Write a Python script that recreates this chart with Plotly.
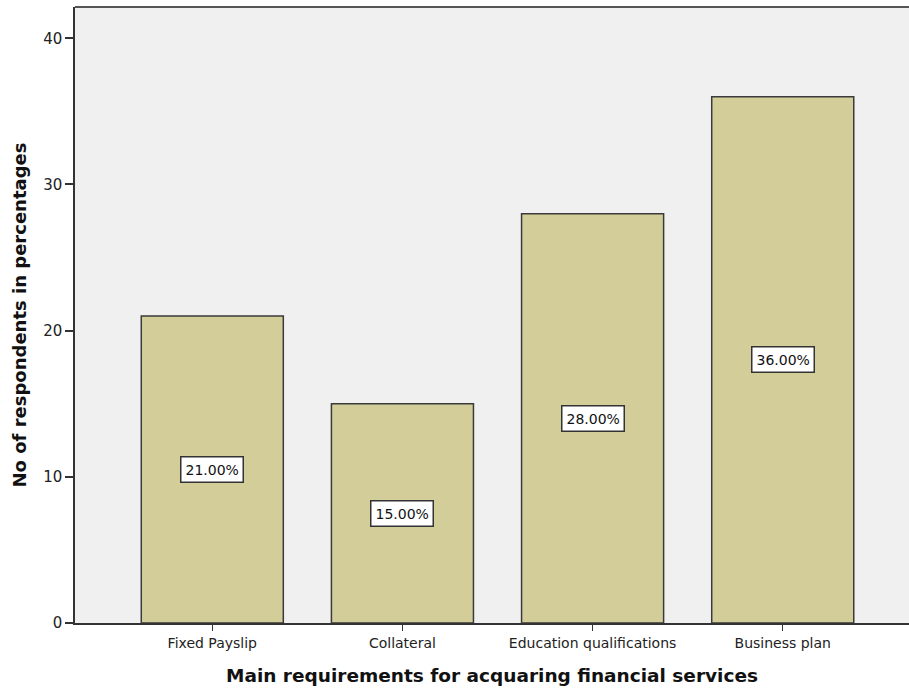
import plotly.graph_objects as go

# Survey results: main requirements for acquiring financial services
categories = ["Fixed Payslip", "Collateral", "Education qualifications", "Business plan"]
percentages = [21, 15, 28, 36]
y_ticks = [0, 10, 20, 30, 40]

bar_fill = "#d3ce99"
bar_edge = "#3a3a3a"
plot_bg = "#f0f0f0"
font_family = "DejaVu Sans"

fig = go.Figure()

fig.add_trace(go.Bar(
    x=categories,
    y=percentages,
    width=0.747,
    marker=dict(color=bar_fill, line=dict(color=bar_edge, width=1.5)),
    hoverinfo="skip",
))

# Value labels in white boxes at the middle of each bar
for cat, val in zip(categories, percentages):
    fig.add_annotation(
        x=cat, y=val / 2, xref="x", yref="y",
        text=f"{val:.2f}%",
        showarrow=False,
        font=dict(family=font_family, size=14, color="#111111"),
        bgcolor="white",
        bordercolor="#333333",
        borderwidth=1.5,
        borderpad=4,
    )

# Frame line along the top of the plotting area
fig.add_shape(type="line", xref="paper", yref="paper",
              x0=0, x1=1, y0=1, y1=1,
              line=dict(color="#555555", width=2))

fig.update_layout(
    width=909, height=691,
    margin=dict(l=75, r=0, t=7, b=68),
    paper_bgcolor="white",
    plot_bgcolor=plot_bg,
    showlegend=False,
    font=dict(family=font_family, color="#222222"),
    xaxis=dict(
        range=[-0.722, 3.664],
        showline=True, linecolor="#333333", linewidth=1.5,
        ticks="outside", ticklen=6, tickcolor="#333333", tickwidth=1,
        tickfont=dict(family=font_family, size=14, color="#222222"),
        showgrid=False, zeroline=False,
        title=dict(text="<b>Main requirements for acquaring financial services</b>",
                   font=dict(family=font_family, size=18.5, color="#111111"),
                   standoff=20),
    ),
    yaxis=dict(
        range=[0, 42.14],
        tickvals=y_ticks,
        showline=True, linecolor="#333333", linewidth=1.5,
        ticks="outside", ticklen=8, tickcolor="#333333", tickwidth=1.5,
        tickfont=dict(family=font_family, size=15, color="#222222"),
        showgrid=False, zeroline=False,
        title=dict(text="<b>No of respondents in percentages</b>",
                   font=dict(family=font_family, size=18, color="#111111"),
                   standoff=12),
    ),
)

fig.write_html("out.html")
